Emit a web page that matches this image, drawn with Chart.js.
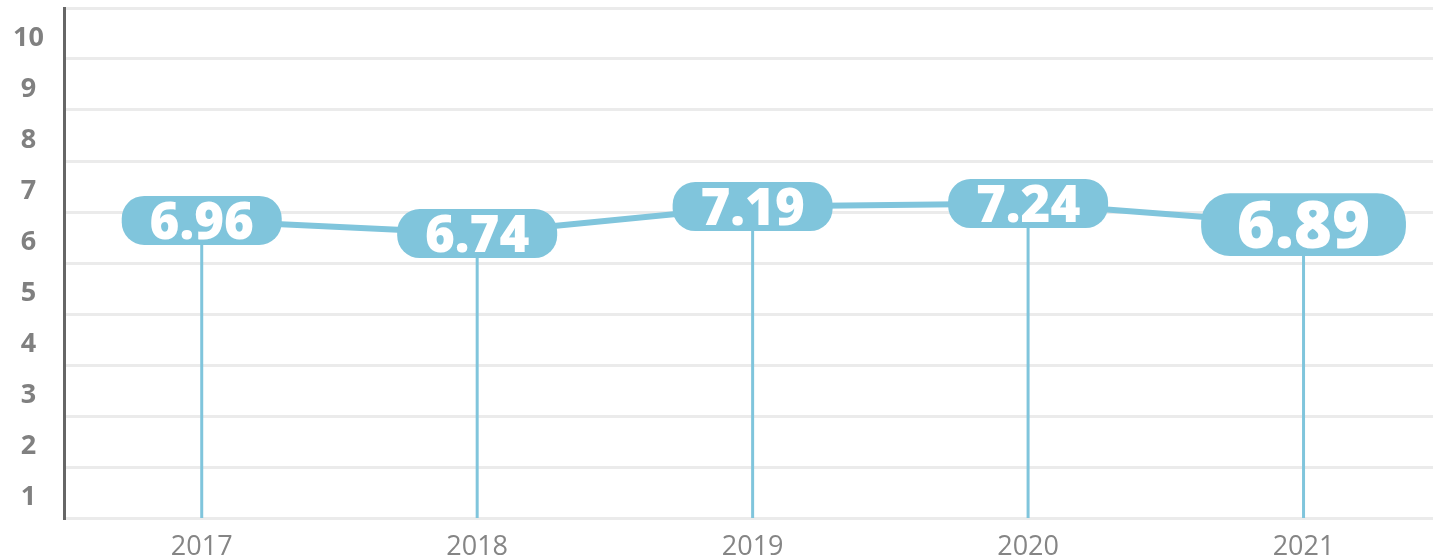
<!DOCTYPE html>
<html>
<head>
<meta charset="utf-8">
<script src="https://cdn.jsdelivr.net/npm/chart.js@4/dist/chart.umd.min.js"></script>
<style>
  html, body { margin: 0; padding: 0; background: #fff; overflow: hidden; }
  #wrap { width: 1433px; height: 559px; position: relative; }
</style>
</head>
<body>
<div id="wrap"><canvas id="chart"></canvas></div>
<script>
const years = ["2017", "2018", "2019", "2020", "2021"];
const scores = [6.96, 6.74, 7.19, 7.24, 6.89];
const yMin = 0;
const yMax = 10;

const BLUE = "#80c5dc";
// the last pill is drawn bigger in the original
const pillScale = [1, 1, 1, 1, 1.28];

// droplines under the points, pills with the value on top
const pillPlugin = {
  id: "pills",
  beforeDatasetsDraw(chart) {
    const ctx = chart.ctx;
    const bottom = chart.chartArea.bottom;
    ctx.save();
    ctx.strokeStyle = BLUE;
    ctx.lineWidth = 3;
    chart.getDatasetMeta(0).data.forEach(pt => {
      ctx.beginPath();
      ctx.moveTo(pt.x, pt.y);
      ctx.lineTo(pt.x, bottom);
      ctx.stroke();
    });
    ctx.restore();
  },
  afterDatasetsDraw(chart) {
    const ctx = chart.ctx;
    ctx.save();
    chart.getDatasetMeta(0).data.forEach((pt, i) => {
      const s = pillScale[i];
      const w = 160 * s, h = 49 * s;
      const x = pt.x - w / 2, y = pt.y - h / 2;
      ctx.fillStyle = BLUE;
      ctx.beginPath();
      ctx.roundRect(x, y, w, h, h * 0.46);
      ctx.fill();

      const size = 51 * s;
      ctx.font = `800 ${size}px "Open Sans"`;
      ctx.fillStyle = "#fff";
      ctx.textAlign = "center";
      ctx.textBaseline = "alphabetic";
      ctx.fillText(scores[i].toFixed(2), pt.x, pt.y + size * 0.714 / 2);
    });
    ctx.restore();
  }
};

new Chart(document.getElementById("chart"), {
  type: "line",
  data: {
    datasets: [{
      data: scores.map((v, i) => ({ x: i, y: v })),
      yAxisID: "yLine",
      borderColor: BLUE,
      borderWidth: 6,
      pointRadius: 0,
      tension: 0
    }]
  },
  options: {
    responsive: true,
    maintainAspectRatio: false,
    animation: false,
    layout: { padding: { top: 8, right: 0, left: 0, bottom: 0 } },
    plugins: { legend: { display: false }, tooltip: { enabled: false } },
    scales: {
      x: {
        type: "linear",
        min: -0.5,
        max: 4.47,
        afterBuildTicks: axis => { axis.ticks = years.map((_, i) => ({ value: i })); },
        afterFit: axis => { axis.height = 41; axis.paddingLeft = 0; axis.paddingRight = 0; },
        grid: { display: false },
        border: { display: true, color: "#ebebeb", width: 3 },
        ticks: {
          autoSkip: false,
          maxRotation: 0,
          padding: 5,
          color: "#858585",
          font: { family: "Open Sans", size: 27 },
          callback: v => years[v] ?? ""
        }
      },
      y: {
        min: yMin,
        max: yMax,
        afterFit: axis => { axis.width = 64; axis.paddingTop = 0; axis.paddingBottom = 0; },
        grid: { color: "#ebebeb", lineWidth: 3, drawTicks: false },
        border: { display: true, color: "#666", width: 3 },
        ticks: {
          stepSize: 1,
          padding: 20,
          crossAlign: "center",
          labelOffset: 30,
          color: "#808080",
          font: { family: "Open Sans", size: 27, weight: "bold" },
          callback: v => v === 0 ? "" : v
        }
      },
      yLine: {
        display: false,
        min: 2,
        max: 10.5
      }
    }
  },
  plugins: [pillPlugin]
});
</script>
</body>
</html>
